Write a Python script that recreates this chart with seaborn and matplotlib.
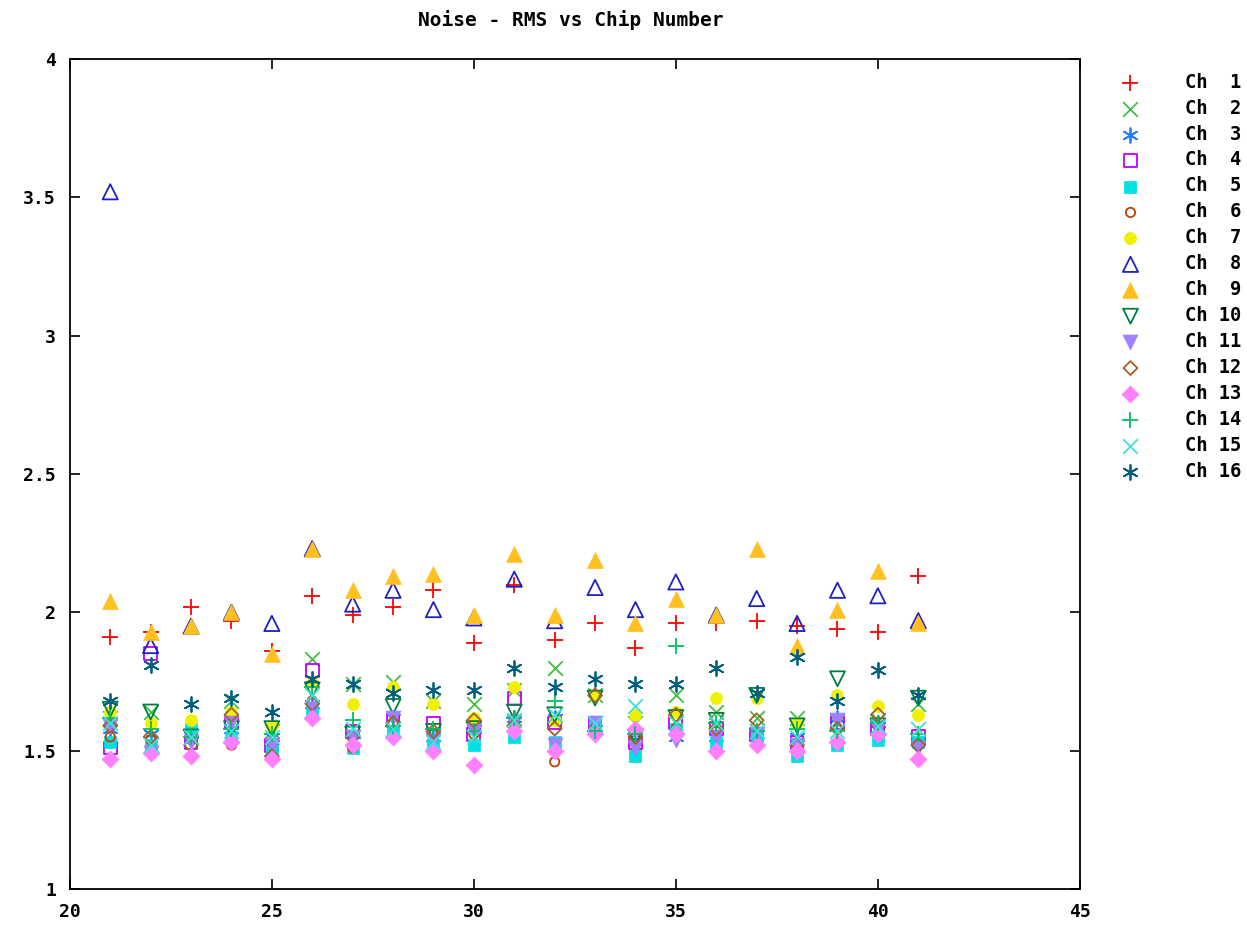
import matplotlib
matplotlib.use("Agg")
import matplotlib.pyplot as plt
import seaborn as sns
import pandas as pd

chips = list(range(21, 42))

ch1  = [1.91, 1.93, 2.02, 1.97, 1.86, 2.06, 1.99, 2.02, 2.08, 1.89, 2.10, 1.90, 1.96, 1.87, 1.96, 1.96, 1.97, 1.95, 1.94, 1.93, 2.13]
ch2  = [1.62, 1.64, 1.55, 1.68, 1.57, 1.83, 1.74, 1.75, 1.68, 1.67, 1.72, 1.80, 1.70, 1.60, 1.70, 1.64, 1.62, 1.62, 1.60, 1.61, 1.67]
ch3  = [1.58, 1.56, 1.56, 1.58, 1.55, 1.67, 1.56, 1.62, 1.55, 1.58, 1.62, 1.62, 1.58, 1.54, 1.55, 1.55, 1.56, 1.55, 1.62, 1.60, 1.54]
ch4  = [1.51, 1.85, 1.53, 1.60, 1.52, 1.79, 1.57, 1.61, 1.60, 1.56, 1.69, 1.60, 1.60, 1.53, 1.60, 1.58, 1.56, 1.53, 1.60, 1.58, 1.55]
ch5  = [1.53, 1.52, 1.58, 1.55, 1.50, 1.64, 1.51, 1.57, 1.52, 1.52, 1.55, 1.53, 1.60, 1.48, 1.58, 1.53, 1.55, 1.48, 1.52, 1.54, 1.53]
ch6  = [1.55, 1.54, 1.54, 1.52, 1.53, 1.68, 1.51, 1.60, 1.56, 1.56, 1.60, 1.46, 1.58, 1.55, 1.58, 1.57, 1.52, 1.51, 1.58, 1.59, 1.52]
ch7  = [1.64, 1.60, 1.61, 1.64, 1.59, 1.75, 1.67, 1.73, 1.67, 1.62, 1.73, 1.61, 1.70, 1.63, 1.64, 1.69, 1.69, 1.60, 1.70, 1.66, 1.63]
ch8  = [3.52, 1.88, 1.95, 2.00, 1.96, 2.23, 2.03, 2.08, 2.01, 1.98, 2.12, 1.97, 2.09, 2.01, 2.11, 1.99, 2.05, 1.96, 2.08, 2.06, 1.97]
ch9  = [2.04, 1.93, 1.95, 2.00, 1.85, 2.23, 2.08, 2.13, 2.14, 1.99, 2.21, 1.99, 2.19, 1.96, 2.05, 1.99, 2.23, 1.88, 2.01, 2.15, 1.96]
ch10 = [1.65, 1.64, 1.55, 1.58, 1.58, 1.72, 1.56, 1.66, 1.57, 1.58, 1.64, 1.63, 1.69, 1.55, 1.62, 1.61, 1.70, 1.59, 1.76, 1.59, 1.69]
ch11 = [1.59, 1.49, 1.53, 1.60, 1.52, 1.65, 1.55, 1.62, 1.54, 1.57, 1.60, 1.52, 1.60, 1.51, 1.54, 1.55, 1.56, 1.52, 1.61, 1.58, 1.51]
ch12 = [1.59, 1.55, 1.52, 1.63, 1.48, 1.67, 1.55, 1.60, 1.57, 1.61, 1.59, 1.58, 1.70, 1.55, 1.63, 1.58, 1.61, 1.52, 1.58, 1.63, 1.52]
ch13 = [1.47, 1.49, 1.48, 1.53, 1.47, 1.62, 1.52, 1.55, 1.50, 1.45, 1.57, 1.50, 1.56, 1.58, 1.56, 1.50, 1.52, 1.50, 1.53, 1.56, 1.47]
ch14 = [1.62, 1.58, 1.55, 1.58, 1.56, 1.73, 1.61, 1.59, 1.58, 1.57, 1.62, 1.68, 1.57, 1.56, 1.88, 1.60, 1.57, 1.58, 1.57, 1.60, 1.56]
ch15 = [1.60, 1.52, 1.55, 1.57, 1.55, 1.70, 1.58, 1.58, 1.53, 1.55, 1.61, 1.63, 1.60, 1.66, 1.60, 1.60, 1.57, 1.55, 1.57, 1.59, 1.58]
ch16 = [1.68, 1.81, 1.67, 1.69, 1.64, 1.76, 1.74, 1.71, 1.72, 1.72, 1.80, 1.73, 1.76, 1.74, 1.74, 1.80, 1.71, 1.84, 1.68, 1.79, 1.70]

labels = ["Ch  1", "Ch  2", "Ch  3", "Ch  4", "Ch  5", "Ch  6", "Ch  7", "Ch  8",
          "Ch  9", "Ch 10", "Ch 11", "Ch 12", "Ch 13", "Ch 14", "Ch 15", "Ch 16"]
series = [ch1, ch2, ch3, ch4, ch5, ch6, ch7, ch8, ch9, ch10, ch11, ch12, ch13, ch14, ch15, ch16]

colors = ["#ff0000", "#40c040", "#2080ff", "#c000ff", "#00e0e0", "#c04000", "#f0f000", "#2020c0",
          "#ffc020", "#008040", "#a080ff", "#a06030", "#ff80ff", "#00c060", "#40e0d8", "#005f80"]
# (marker, filled)
markers = [("+", None), ("x", None), ((6, 2, 0), None), ("s", False), ("s", True), ("o", False),
           ("o", True), ("^", False), ("^", True), ("v", False), ("v", True), ("D", False),
           ("D", True), ("+", None), ("x", None), ((6, 2, 0), None)]
sizes = [120, 110, 110, 85, 85, 45, 75, 120, 130, 115, 115, 50, 75, 120, 110, 115]

sns.set_theme(style="ticks")
plt.rcParams["font.family"] = ["DejaVu Sans Mono", "DejaVu Sans"]
plt.rcParams["font.weight"] = "bold"
plt.rcParams["text.color"] = "black"
plt.rcParams["xtick.color"] = "black"
plt.rcParams["ytick.color"] = "black"

fig = plt.figure(figsize=(12.47, 9.3), dpi=100)
ax = fig.add_axes([0.056, 0.044, 0.81, 0.8926])

for lab, vals, col, (mk, filled), sz in zip(labels, series, colors, markers, sizes):
    df = pd.DataFrame({"chip": chips, "rms": vals})
    if filled is None:
        sns.scatterplot(data=df, x="chip", y="rms", ax=ax, marker=mk, color=col, s=sz,
                        linewidth=1.3, label=lab)
    elif filled:
        sns.scatterplot(data=df, x="chip", y="rms", ax=ax, marker=mk, color=col, s=sz,
                        edgecolor=col, linewidth=0.5, label=lab)
    else:
        sns.scatterplot(data=df, x="chip", y="rms", ax=ax, marker=mk, s=sz,
                        facecolors="none", edgecolor=col, linewidth=1.3, label=lab)

ax.set_xlim(20, 45)
ax.set_ylim(1, 4)
ax.set_xticks([20, 25, 30, 35, 40, 45])
ax.set_yticks([1, 1.5, 2, 2.5, 3, 3.5, 4])
ax.set_yticklabels(["1", "1.5", "2", "2.5", "3", "3.5", "4"])
ax.set_xlabel("")
ax.set_ylabel("")
ax.tick_params(direction="in", length=7, width=1.2, top=True, right=True,
               labelsize=13, colors="black", pad=10)
for lbl in ax.get_xticklabels() + ax.get_yticklabels():
    lbl.set_fontweight("bold")
for sp in ax.spines.values():
    sp.set_visible(True)
    sp.set_linewidth(1.3)
    sp.set_color("black")

fig.text(0.458, 0.978, "Noise - RMS vs Chip Number", ha="center", va="center",
         fontsize=14, fontweight="bold", color="black")

handles, labs = ax.get_legend_handles_labels()
if ax.legend_:
    ax.legend_.remove()
fig.legend(handles, labs, loc="upper left", bbox_to_anchor=(0.878, 0.94),
           frameon=False, labelspacing=0.37, handletextpad=1.9,
           prop={"family": "DejaVu Sans Mono", "weight": "bold", "size": 13.5},
           labelcolor="black")

fig.savefig("out.png", dpi=100)
